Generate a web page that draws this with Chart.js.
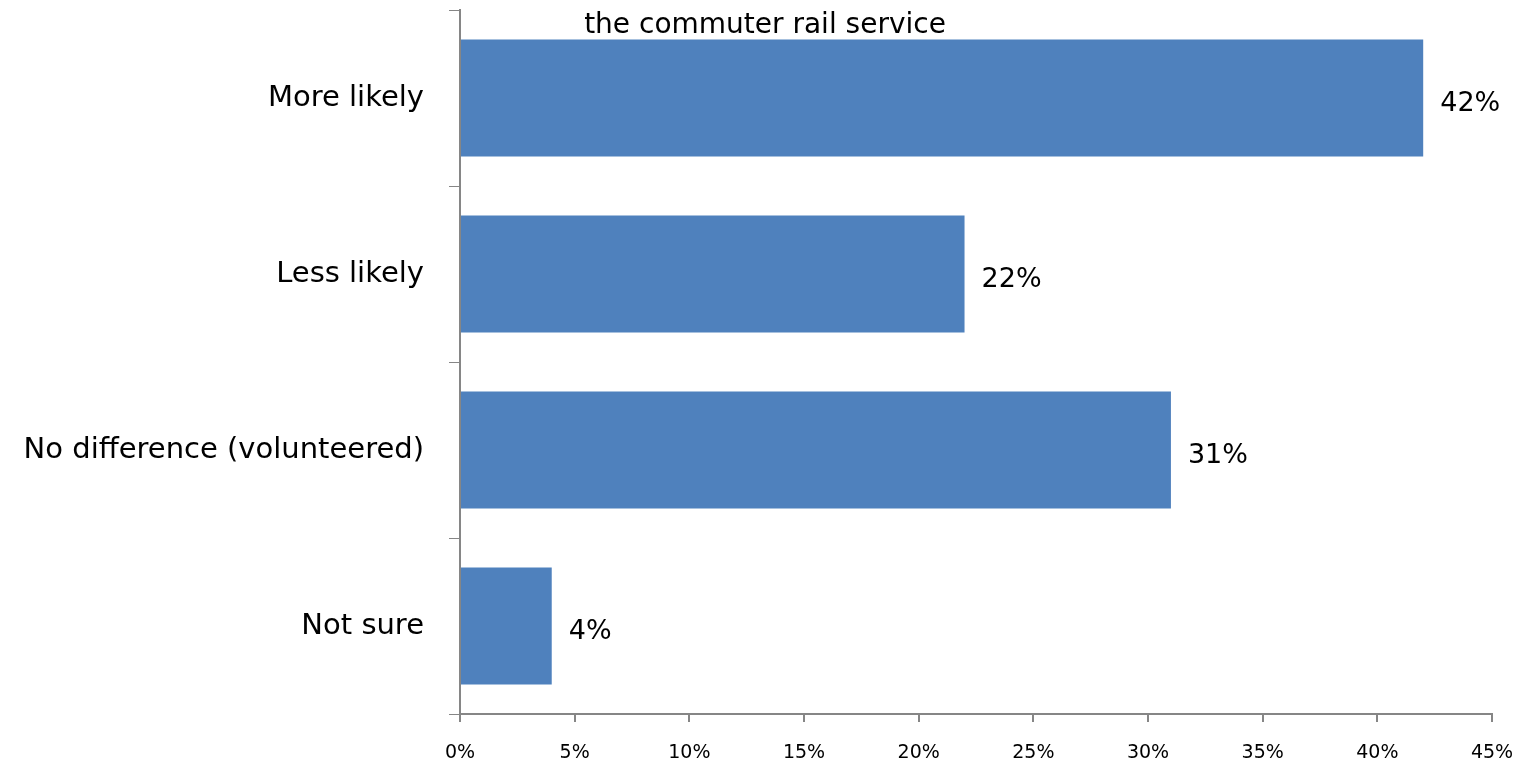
<!DOCTYPE html>
<html lang="en">

<head>
    <meta charset="UTF-8">
    <script src="https://cdn.jsdelivr.net/npm/chart.js"></script>
    <title>Commuter rail service</title>
    <style>
        body { margin: 0; background: #fff; }
        #grafico { display: block; }
    </style>
</head>

<body>
    <canvas id="grafico" width="1524" height="762"></canvas>
</body>

</html>
<script>
    // categorias e valores (fração)
    const categorias = ['More likely', 'Less likely', 'No difference (volunteered)', 'Not sure'];
    const valores = [0.42, 0.22, 0.31, 0.04];
    const ticksX = [0, 0.05, 0.10, 0.15, 0.20, 0.25, 0.30, 0.35, 0.40, 0.45];
    const tituloLinhas = ['the commuter rail service'];

    const fonte = '"DejaVu Sans", Verdana, sans-serif';

    // rótulos de valor ao lado de cada barra
    const rotulos = {
        id: 'rotulos',
        afterDatasetsDraw(chart) {
            const ctx = chart.ctx;
            const meta = chart.getDatasetMeta(0);
            ctx.save();
            ctx.font = '27px ' + fonte;
            ctx.fillStyle = '#000';
            ctx.textAlign = 'left';
            ctx.textBaseline = 'middle';
            meta.data.forEach((bar, i) => {
                ctx.fillText(Math.round(valores[i] * 100) + '%', bar.x + 17, bar.y + 6);
            });
            ctx.restore();
        }
    };

    // título por cima da área do gráfico
    const titulo = {
        id: 'titulo',
        afterDraw(chart) {
            const ctx = chart.ctx;
            ctx.save();
            ctx.font = '28px ' + fonte;
            ctx.fillStyle = '#000';
            ctx.textAlign = 'center';
            ctx.textBaseline = 'middle';
            tituloLinhas.forEach((t, i) => ctx.fillText(t, 765, 26 + i * 30));
            ctx.restore();
        }
    };

    new Chart(document.getElementById('grafico'), {
        type: 'bar',
        data: {
            labels: categorias,
            datasets: [{
                data: valores,
                backgroundColor: '#4F81BD',
                categoryPercentage: 1,
                barPercentage: 0.665
            }]
        },
        options: {
            indexAxis: 'y',
            responsive: false,
            animation: false,
            layout: { padding: { top: 10, right: 32, left: 0, bottom: 0 } },
            plugins: {
                legend: { display: false },
                tooltip: { enabled: false }
            },
            scales: {
                x: {
                    min: 0,
                    max: 0.45,
                    afterBuildTicks(scale) {
                        scale.ticks = ticksX.map(v => ({ value: v }));
                    },
                    afterFit(scale) {
                        scale.height = 48;
                        scale.paddingLeft = 0;
                        scale.paddingRight = 0;
                    },
                    border: { color: '#868686', width: 2 },
                    grid: { drawOnChartArea: false, tickLength: 8, color: '#868686', lineWidth: 2 },
                    ticks: {
                        padding: 20,
                        color: '#000',
                        font: { size: 19, family: fonte },
                        callback: v => Math.round(v * 100) + '%'
                    }
                },
                y: {
                    afterFit(scale) {
                        scale.width = 460;
                        scale.paddingTop = 0;
                        scale.paddingBottom = 0;
                    },
                    border: { color: '#868686', width: 2 },
                    grid: { drawOnChartArea: false, offset: true, tickLength: 11, color: '#868686', lineWidth: 1 },
                    ticks: {
                        padding: 25,
                        color: '#000',
                        font: { size: 29, family: fonte }
                    }
                }
            }
        },
        plugins: [rotulos, titulo]
    });
</script>
